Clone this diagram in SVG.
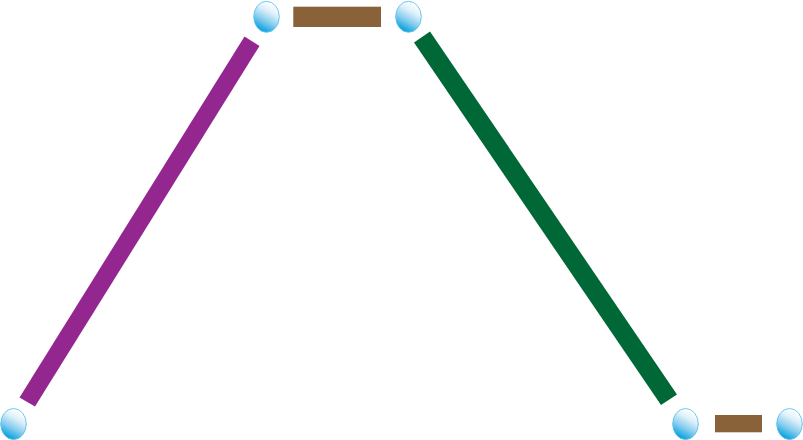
<svg xmlns="http://www.w3.org/2000/svg" width="803" height="440" viewBox="0 0 803 440">
<style>
.ball{fill:url(#g);stroke:#5cc3ec;stroke-width:.9}
.bar{fill:#8a623a}
</style>
<defs>
<linearGradient id="g" x1="0.78" y1="0.12" x2="0.4" y2="0.95">
<stop offset="0" stop-color="#ffffff"/>
<stop offset="0.3" stop-color="#dceff9"/>
<stop offset="0.65" stop-color="#86cdee"/>
<stop offset="1" stop-color="#12a5e0"/>
</linearGradient>
</defs>
<g id="connectors">
<polygon points="244.500,36.500 259.500,46 35,406.500 19.500,397.500" fill="#93278f"/>
<polygon points="414,42.500 430,31.500 677,394.500 661,405" fill="#006837"/>
</g>
<g id="node-a"><ellipse class="ball" cx="13.500" cy="424" rx="12.800" ry="15.500"/></g>
<g id="node-b"><ellipse class="ball" cx="266.500" cy="16.800" rx="12.800" ry="15.500"/></g>
<g id="bar-top"><rect class="bar" x="293.300" y="6.700" width="87.700" height="20.300"/></g>
<g id="node-c"><ellipse class="ball" cx="408.500" cy="16.800" rx="12.800" ry="15.500"/></g>
<g id="node-d"><ellipse class="ball" cx="685.500" cy="424" rx="12.800" ry="15.500"/></g>
<g id="bar-bottom"><rect class="bar" x="715" y="415" width="47" height="17.300"/></g>
<g id="node-e"><ellipse class="ball" cx="789.500" cy="424" rx="12.800" ry="15.500"/></g>
</svg>
